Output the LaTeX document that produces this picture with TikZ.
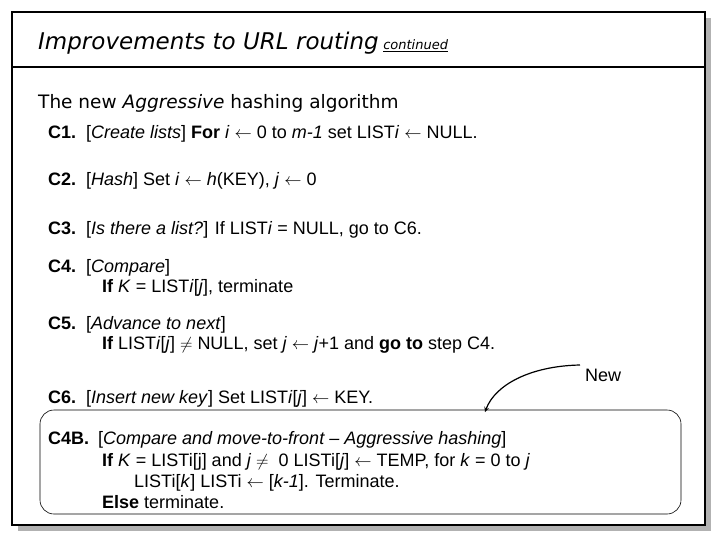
\documentclass[tikz,border=0pt]{standalone}
\usepackage{fontspec}
\setmainfont{Liberation Sans}
\newfontfamily\comic{DejaVu Sans}
\begin{document}
\begin{tikzpicture}[x=1pt,y=-1pt,
  txt/.style={anchor=base west,inner sep=0pt,font=\fontsize{18}{20}\selectfont},
  lab/.style={txt,font=\fontsize{18}{20}\selectfont\bfseries}]
\useasboundingbox (0,0) rectangle (720,540);
\fill[gray!60] (18,18) rectangle (711,531);
\draw[line width=1.2pt,fill=white] (12,12) rectangle (705,525);
\draw[line width=1.2pt] (12,67) -- (705,67);
\node[anchor=base west,inner sep=0pt] (title) at (38,50) {\comic\fontsize{23}{26}\selectfont\itshape Improvements to URL routing};
\node[anchor=base west,inner sep=0pt] (cont) at (title.base east) {\comic\fontsize{13}{15}\selectfont\itshape\ \underline{continued}};
\node[anchor=base west,inner sep=0pt] (sub) at (38,109) {\comic\fontsize{18.5}{22}\selectfont The new \textit{Aggressive} hashing algorithm};
\node[lab] (c1) at (48,139) {C1.};
\node[txt] at (86,139) {[\textit{Create lists}] \textbf{For} \textit{i} $\leftarrow$ 0 to \textit{m-1} set LIST\textit{i} $\leftarrow$ NULL.};
\node[lab] (c2) at (48,186) {C2.};
\node[txt] at (86,186) {[\textit{Hash}] Set \textit{i} $\leftarrow$ \textit{h}(KEY), \textit{j} $\leftarrow$ 0};
\node[lab] (c3) at (48,234) {C3.};
\node[txt] at (86,234) {[\textit{Is there a list?}] If LIST\textit{i} = NULL, go to C6.};
\node[lab] (c4) at (48,272) {C4.};
\node[txt] at (86,272) {[\textit{Compare}]};
\node[txt] at (102,292) {\textbf{If} \textit{K} = LIST\textit{i}[\textit{j}], terminate};
\node[lab] (c5) at (48,329) {C5.};
\node[txt] at (86,329) {[\textit{Advance to next}]};
\node[txt] at (102,349) {\textbf{If} LIST\textit{i}[\textit{j}] $\neq$ NULL, set \textit{j} $\leftarrow$ \textit{j}+1 and \textbf{go to} step C4.};
\node[lab] (c6) at (48,403) {C6.};
\node[txt] at (86,403) {[\textit{Insert new key}] Set LIST\textit{i}[\textit{j}] $\leftarrow$ KEY.};
\node[txt] (new) at (585,381) {New};
\draw[rounded corners=14pt,line width=0.6pt] (40,410) rectangle (681,514);
\coordinate (tip) at (485,412);
\coordinate (from) at (580,365);
\draw[line width=1.2pt,-stealth] (from) .. controls (530,366) and (495,385) .. (tip);
\node[lab] (c4b) at (48,444) {C4B.};
\node[txt] at (98,444) {[\textit{Compare and move-to-front -- Aggressive hashing}]};
\node[txt] at (102,466) {\textbf{If} \textit{K} = LISTi[j] and \textit{j} $\neq$\ \ 0 LISTi[\textit{j}] $\leftarrow$ TEMP, for \textit{k} = 0 to \textit{j}};
\node[txt] at (134,487) {LISTi[\textit{k}] LISTi $\leftarrow$ [\textit{k-1}]. Terminate.};
\node[txt] at (102,508) {\textbf{Else} terminate.};
\end{tikzpicture}
\end{document}
